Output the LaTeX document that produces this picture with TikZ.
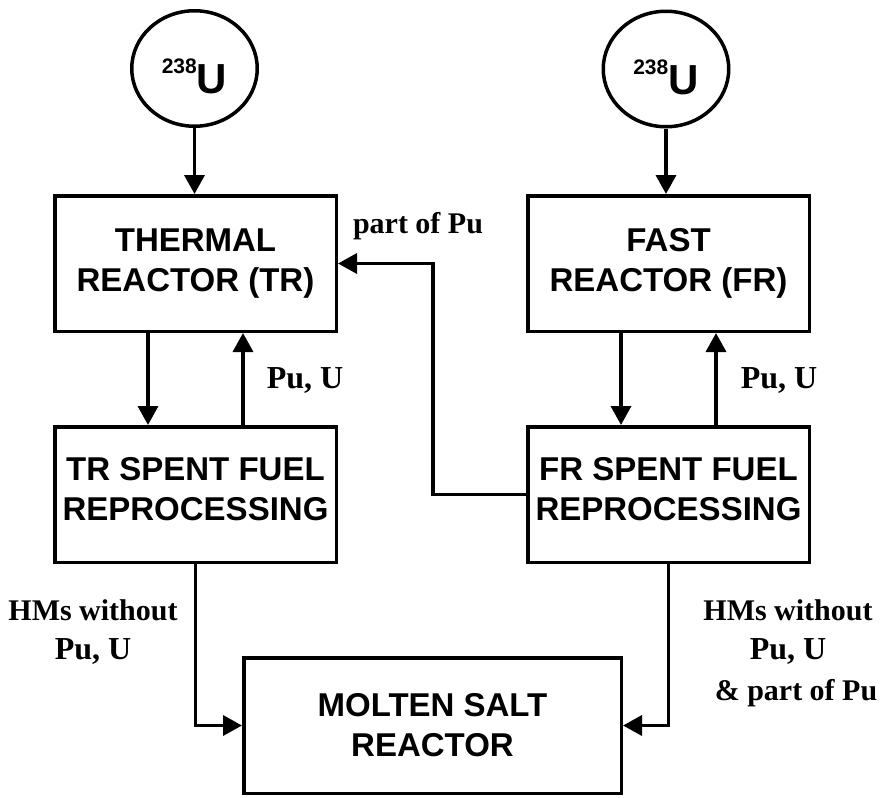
\documentclass[tikz,border=0pt]{standalone}
\usepackage{fontspec}
\setmainfont{Liberation Serif}
\newfontfamily\boxfont{Liberation Sans}
\usetikzlibrary{arrows.meta,shapes.geometric}

\begin{document}
\begin{tikzpicture}[x=0.5pt, y=-0.5pt,
  unit/.style={rectangle, draw, line width=1.75pt, minimum width=140.75pt, minimum height=67.75pt,
    align=center, font=\boxfont\bfseries\fontsize{16.5}{20}\selectfont},
  isotope/.style={ellipse, draw, line width=1.75pt, minimum width=62.75pt, minimum height=57.75pt,
    inner sep=0pt, text height=25pt, text depth=0pt, font=\boxfont\bfseries\fontsize{21}{24}\selectfont},
  flow/.style={line width=1.75pt, -{Triangle[length=9.5pt, width=10pt]}},
  tag/.style={anchor=base, font=\bfseries\fontsize{15}{18}\selectfont},
  bigtag/.style={anchor=base, font=\bfseries\fontsize{16}{19}\selectfont}]
  \useasboundingbox (0,0) rectangle (880,798);
  \node[isotope] (UL) at (194.5,68.5) {\raisebox{10pt}{\fontsize{10.5}{12}\selectfont 238}U\hspace{5pt}};
  \node[isotope] (UR) at (666,69) {\raisebox{10pt}{\fontsize{10.5}{12}\selectfont 238}U\hspace{5pt}};
  \node[unit] (TR) at (195.5,263.5) {THERMAL\\REACTOR (TR)};
  \node[unit] (FR) at (668.5,263.5) {FAST\\REACTOR (FR)};
  \node[unit, text depth=6pt] (TRS) at (195.5,494.5) {TR SPENT FUEL\\REPROCESSING};
  \node[unit, text depth=6pt] (FRS) at (668.5,494.5) {FR SPENT FUEL\\REPROCESSING};
  \node[unit, minimum width=188.75pt] (MSR) at (432.5,725.5) {MOLTEN SALT\\REACTOR};
  \coordinate (kink) at (433,380);
  \draw[flow] (UL.south) -- (UL.south |- TR.north);
  \draw[flow] (UR.south) -- (UR.south |- FR.north);
  \draw[flow] ([xshift=-23.75pt]TR.south) -- ([xshift=-23.75pt]TRS.north);
  \draw[flow] ([xshift=23.75pt]TRS.north) -- ([xshift=23.75pt]TR.south);
  \draw[flow] ([xshift=-23.75pt]FR.south) -- ([xshift=-23.75pt]FRS.north);
  \draw[flow] ([xshift=23.75pt]FRS.north) -- ([xshift=23.75pt]FR.south);
  \draw[flow] (FRS.west) -| (kink) |- (TR.east);
  \draw[flow] (TRS.south) |- (MSR.west);
  \draw[flow] (FRS.south) |- (MSR.east);
  \node[bigtag] (puL) at (305,388) {Pu, U};
  \node[bigtag] (puR) at (779,388) {Pu, U};
  \node[tag] (partPu) at (418,233) {part of Pu};
  \node[tag] (hmsL) at (93,620) {HMs without};
  \node[bigtag] (puHL) at (93,659) {Pu, U};
  \node[tag] (hmsR) at (788,620) {HMs without};
  \node[bigtag] (puHR) at (788,659) {Pu, U};
  \node[tag] (partR) at (796,700) {\& part of Pu};
\end{tikzpicture}
\end{document}
